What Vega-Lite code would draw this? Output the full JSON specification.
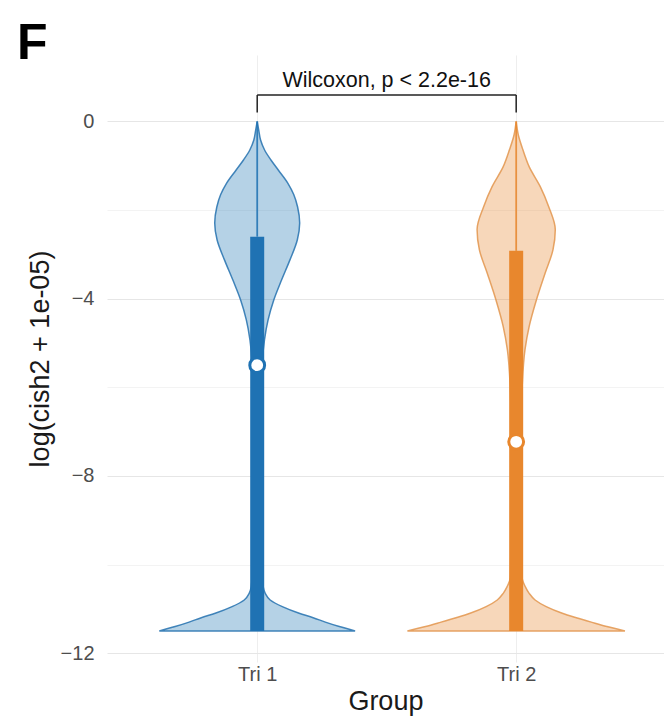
{
  "$schema": "https://vega.github.io/schema/vega-lite/v6.json",
  "autosize": {"type": "none"},
  "padding": {"left": 107, "top": 55, "right": 0, "bottom": 56},
  "width": 556.8,
  "height": 607,
  "background": "white",
  "config": {"view": {"stroke": null}, "font": "Liberation Sans"},
  "title": {"text": "F", "anchor": "start", "frame": "group", "fontSize": 50, "fontWeight": "bold", "font": "Liberation Sans", "color": "#000000", "baseline": "alphabetic", "offset": 0, "dx": -90, "dy": 54},
  "datasets": {
    "violin": [
      {"group": "Tri 1", "y": 0, "w": 0},
      {"group": "Tri 1", "y": -0.2, "w": 0.006},
      {"group": "Tri 1", "y": -0.42, "w": 0.013},
      {"group": "Tri 1", "y": -0.65, "w": 0.029},
      {"group": "Tri 1", "y": -0.87, "w": 0.053},
      {"group": "Tri 1", "y": -1.1, "w": 0.082},
      {"group": "Tri 1", "y": -1.39, "w": 0.118},
      {"group": "Tri 1", "y": -1.65, "w": 0.141},
      {"group": "Tri 1", "y": -1.93, "w": 0.156},
      {"group": "Tri 1", "y": -2.29, "w": 0.164},
      {"group": "Tri 1", "y": -2.67, "w": 0.155},
      {"group": "Tri 1", "y": -3.13, "w": 0.126},
      {"group": "Tri 1", "y": -3.58, "w": 0.094},
      {"group": "Tri 1", "y": -4.03, "w": 0.064},
      {"group": "Tri 1", "y": -4.48, "w": 0.042},
      {"group": "Tri 1", "y": -4.93, "w": 0.028},
      {"group": "Tri 1", "y": -5.5, "w": 0.019},
      {"group": "Tri 1", "y": -6.5, "w": 0.015},
      {"group": "Tri 1", "y": -7.5, "w": 0.014},
      {"group": "Tri 1", "y": -8.5, "w": 0.014},
      {"group": "Tri 1", "y": -9.5, "w": 0.015},
      {"group": "Tri 1", "y": -10.2, "w": 0.019},
      {"group": "Tri 1", "y": -10.5, "w": 0.023},
      {"group": "Tri 1", "y": -10.65, "w": 0.031},
      {"group": "Tri 1", "y": -10.8, "w": 0.05},
      {"group": "Tri 1", "y": -10.95, "w": 0.097},
      {"group": "Tri 1", "y": -11.1, "w": 0.162},
      {"group": "Tri 1", "y": -11.2, "w": 0.216},
      {"group": "Tri 1", "y": -11.3, "w": 0.263},
      {"group": "Tri 1", "y": -11.4, "w": 0.317},
      {"group": "Tri 1", "y": -11.5, "w": 0.378},
      {"group": "Tri 2", "y": 0, "w": 0},
      {"group": "Tri 2", "y": -0.3, "w": 0.008},
      {"group": "Tri 2", "y": -0.64, "w": 0.026},
      {"group": "Tri 2", "y": -1.02, "w": 0.05},
      {"group": "Tri 2", "y": -1.47, "w": 0.093},
      {"group": "Tri 2", "y": -1.93, "w": 0.126},
      {"group": "Tri 2", "y": -2.44, "w": 0.151},
      {"group": "Tri 2", "y": -2.9, "w": 0.142},
      {"group": "Tri 2", "y": -3.42, "w": 0.112},
      {"group": "Tri 2", "y": -4.03, "w": 0.078},
      {"group": "Tri 2", "y": -4.63, "w": 0.05},
      {"group": "Tri 2", "y": -5.15, "w": 0.034},
      {"group": "Tri 2", "y": -6, "w": 0.023},
      {"group": "Tri 2", "y": -7, "w": 0.019},
      {"group": "Tri 2", "y": -8, "w": 0.019},
      {"group": "Tri 2", "y": -9, "w": 0.019},
      {"group": "Tri 2", "y": -9.8, "w": 0.021},
      {"group": "Tri 2", "y": -10.3, "w": 0.023},
      {"group": "Tri 2", "y": -10.5, "w": 0.035},
      {"group": "Tri 2", "y": -10.65, "w": 0.05},
      {"group": "Tri 2", "y": -10.8, "w": 0.073},
      {"group": "Tri 2", "y": -10.95, "w": 0.116},
      {"group": "Tri 2", "y": -11.1, "w": 0.178},
      {"group": "Tri 2", "y": -11.2, "w": 0.232},
      {"group": "Tri 2", "y": -11.3, "w": 0.29},
      {"group": "Tri 2", "y": -11.4, "w": 0.35},
      {"group": "Tri 2", "y": -11.5, "w": 0.42}
    ],
    "stats": [
      {"group": "Tri 1", "min": -11.5, "q3": -2.6, "median": -5.5, "max": 0},
      {"group": "Tri 2", "min": -11.5, "q3": -2.92, "median": -7.23, "max": 0}
    ],
    "comparison": [
      {"g1": 1, "g2": 2, "yb": 0.6, "yt": 0.2, "label": "Wilcoxon, p < 2.2e-16"}
    ]
  },
  "layer": [
    {
      "data": {"name": "violin"},
      "transform": [
        {"calculate": "indexof(['Tri 1','Tri 2'], datum.group) + 1", "as": "gx"},
        {"calculate": "datum.gx - datum.w", "as": "lo"},
        {"calculate": "datum.gx + datum.w", "as": "hi"}
      ],
      "mark": {"type": "area", "orient": "horizontal", "interpolate": "monotone", "fillOpacity": 0.33, "strokeWidth": 1.5, "strokeOpacity": 0.9},
      "encoding": {
        "y": {
          "field": "y", "type": "quantitative",
          "scale": {"domain": [-12.2, 1.5], "nice": false, "zero": false},
          "axis": {
            "values": [-12, -10, -8, -6, -4, -2, 0],
            "labelExpr": "datum.value % 4 == 0 ? datum.label : ''",
            "grid": true,
            "gridColor": {"condition": {"test": "datum.value % 4 == 0", "value": "#e6e6e6"}, "value": "#f3f3f3"},
            "domain": false, "ticks": false,
            "labelFontSize": 20, "labelColor": "#4d4d4d", "labelPadding": 13, "labelFont": "Liberation Sans",
            "title": "log(cish2 + 1e-05)", "titleFontSize": 27, "titleFontWeight": "normal", "titleColor": "#1a1a1a", "titlePadding": 6, "titleFont": "Liberation Sans"
          }
        },
        "x": {
          "field": "lo", "type": "quantitative",
          "scale": {"domain": [0.42, 2.57], "nice": false, "zero": false},
          "axis": {
            "values": [1, 2],
            "labelExpr": "datum.value == 1 ? 'Tri 1' : 'Tri 2'",
            "grid": true, "gridColor": "#eeeeee",
            "domain": false, "ticks": false,
            "labelFontSize": 20, "labelColor": "#4d4d4d", "labelPadding": 3, "labelFont": "Liberation Sans",
            "title": "Group", "titleFontSize": 27, "titleFontWeight": "normal", "titleColor": "#1a1a1a", "titlePadding": 4, "titleFont": "Liberation Sans"
          }
        },
        "x2": {"field": "hi"},
        "fill": {"field": "group", "type": "nominal", "scale": {"domain": ["Tri 1", "Tri 2"], "range": ["#1f77b4", "#e8872d"]}, "legend": null},
        "stroke": {"field": "group", "type": "nominal", "scale": {"domain": ["Tri 1", "Tri 2"], "range": ["#2f78b3", "#e39a55"]}, "legend": null}
      }
    },
    {
      "data": {"name": "stats"},
      "transform": [{"calculate": "indexof(['Tri 1','Tri 2'], datum.group) + 1", "as": "gx"}],
      "mark": {"type": "rule", "strokeWidth": 1.8, "opacity": 0.85},
      "encoding": {
        "x": {"field": "gx", "type": "quantitative"},
        "y": {"field": "max", "type": "quantitative"},
        "y2": {"field": "q3"},
        "color": {"field": "group", "type": "nominal", "scale": {"domain": ["Tri 1", "Tri 2"], "range": ["#1f72b3", "#e8872d"]}, "legend": null}
      }
    },
    {
      "data": {"name": "stats"},
      "transform": [{"calculate": "indexof(['Tri 1','Tri 2'], datum.group) + 1", "as": "gx"}],
      "mark": {"type": "rule", "strokeWidth": 14, "strokeCap": "butt"},
      "encoding": {
        "x": {"field": "gx", "type": "quantitative"},
        "y": {"field": "q3", "type": "quantitative"},
        "y2": {"field": "min"},
        "color": {"field": "group", "type": "nominal", "legend": null}
      }
    },
    {
      "data": {"name": "stats"},
      "transform": [{"calculate": "indexof(['Tri 1','Tri 2'], datum.group) + 1", "as": "gx"}],
      "mark": {"type": "point", "shape": "circle", "filled": false, "fill": "white", "fillOpacity": 1, "strokeWidth": 3, "size": 220, "opacity": 1, "strokeOpacity": 1},
      "encoding": {
        "x": {"field": "gx", "type": "quantitative"},
        "y": {"field": "median", "type": "quantitative"},
        "color": {"field": "group", "type": "nominal", "legend": null}
      }
    },
    {
      "data": {"name": "comparison"},
      "mark": {"type": "rule", "strokeWidth": 1.5, "color": "#222222"},
      "encoding": {
        "x": {"field": "g1", "type": "quantitative"},
        "x2": {"field": "g2"},
        "y": {"field": "yb", "type": "quantitative"}
      }
    },
    {
      "data": {"name": "comparison"},
      "mark": {"type": "rule", "strokeWidth": 1.5, "color": "#222222"},
      "encoding": {
        "x": {"field": "g1", "type": "quantitative"},
        "y": {"field": "yt", "type": "quantitative"},
        "y2": {"field": "yb"}
      }
    },
    {
      "data": {"name": "comparison"},
      "mark": {"type": "rule", "strokeWidth": 1.5, "color": "#222222"},
      "encoding": {
        "x": {"field": "g2", "type": "quantitative"},
        "y": {"field": "yt", "type": "quantitative"},
        "y2": {"field": "yb"}
      }
    },
    {
      "data": {"name": "comparison"},
      "transform": [{"calculate": "(datum.g1 + datum.g2) / 2", "as": "mid"}],
      "mark": {"type": "text", "fontSize": 21.5, "font": "Liberation Sans", "color": "#111111", "baseline": "alphabetic", "align": "center", "dy": -8},
      "encoding": {
        "x": {"field": "mid", "type": "quantitative"},
        "y": {"field": "yb", "type": "quantitative"},
        "text": {"field": "label"}
      }
    }
  ]
}
